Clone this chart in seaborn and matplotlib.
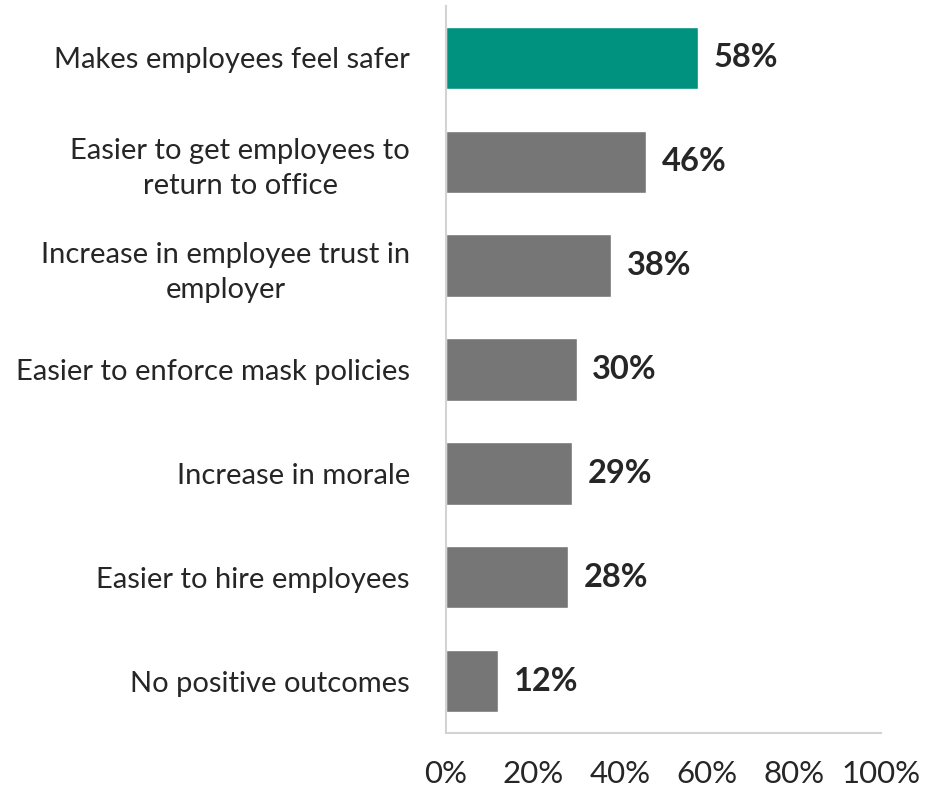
import matplotlib
matplotlib.use("Agg")
import matplotlib.pyplot as plt
import seaborn as sns
import pandas as pd

categories = [
    "Makes employees feel safer",
    "Easier to get employees to\nreturn to office",
    "Increase in employee trust in\nemployer",
    "Easier to enforce mask policies",
    "Increase in morale",
    "Easier to hire employees",
    "No positive outcomes",
]
values = [58, 46, 38, 30, 29, 28, 12]
bar_colors = ["#00927F", "#767676", "#767676", "#767676", "#767676", "#767676", "#767676"]
x_ticks = [0, 20, 40, 60, 80, 100]
x_tick_labels = ["0%", "20%", "40%", "60%", "80%", "100%"]

sns.set_theme(style="white")
plt.rcParams["font.family"] = ["Lato", "DejaVu Sans"]

df = pd.DataFrame({"category": categories, "value": values})

fig = plt.figure(figsize=(9.35, 7.88), dpi=100)
ax = fig.add_axes([446 / 935, 55 / 788, 435 / 935, 727 / 788])

sns.barplot(data=df, x="value", y="category", hue="category",
            palette=bar_colors, width=0.6, ax=ax, legend=False,
            saturation=1, orient="h")

ax.set_xlim(0, 100)
ax.set_ylim(6.5, -0.5)
ax.set_xticks(x_ticks)
ax.set_xticklabels(x_tick_labels)
ax.set_xlabel("")
ax.set_ylabel("")

ax.tick_params(axis="y", length=0, pad=26, labelsize=21, labelcolor="#262626")
ax.tick_params(axis="x", length=0, pad=19.5, labelsize=22.5, labelcolor="#262626")
for lbl in ax.get_yticklabels():
    lbl.set_multialignment("center")
    lbl.set_linespacing(1.4)

for side in ["top", "right"]:
    ax.spines[side].set_visible(False)
for side in ["left", "bottom"]:
    ax.spines[side].set_color("#D3D3D3")
    ax.spines[side].set_linewidth(1.5)

for i, v in enumerate(values):
    ax.text(v + 3.6, i, f"{v}%", va="center", ha="left",
            fontsize=23.5, fontweight="bold", color="#262626")

fig.savefig("out.png", dpi=100)
